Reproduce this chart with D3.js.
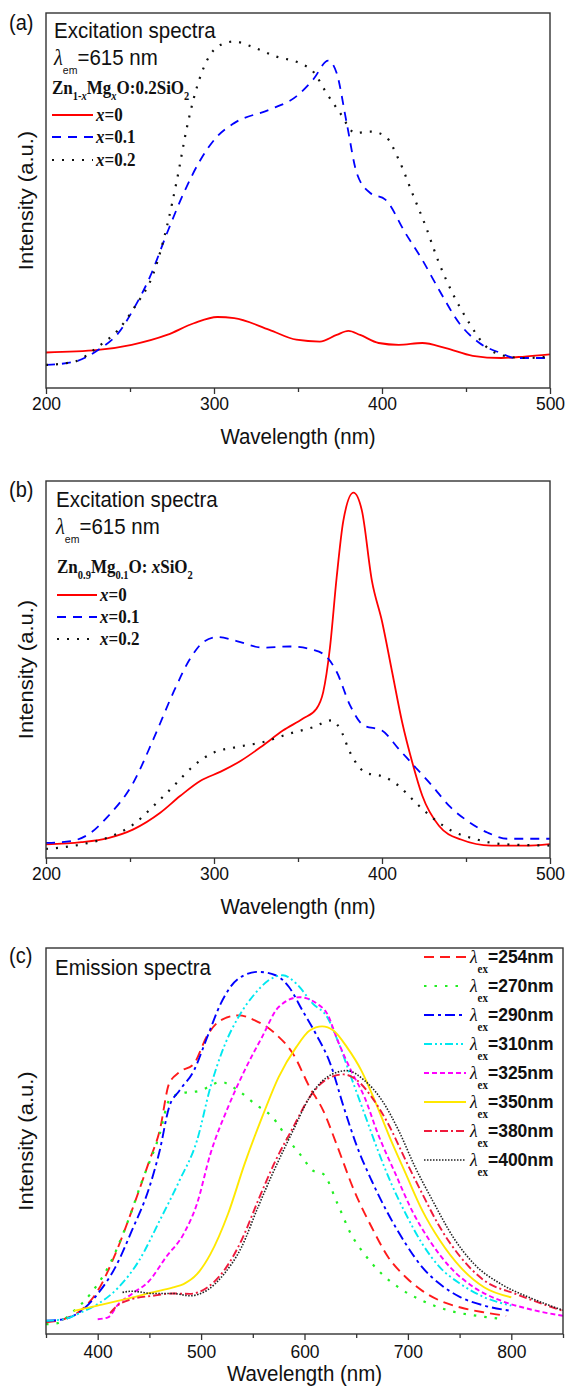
<!DOCTYPE html>
<html>
<head>
<meta charset="utf-8">
<script src="https://cdn.jsdelivr.net/npm/d3@7"></script>
<style>
  body { margin: 0; background: #fff; }
  svg { display: block; }
</style>
</head>
<body>
<div id="chart"></div>
<script>

// Data. Each point is [wavelength nm, intensity a.u.].

// (a) excitation, Zn1-xMgxO:0.2SiO2
var excA_x0 = [[200,7.2],[231,7.9],[251,9.3],[272,12],[288,15.2],[302,16.9],[312,16.6],[333,13.4],[349,10.7],[363,10.2],[373,12],[380,13.1],[387,12],[398,9.8],[410,9.3],[424,9.8],[438,8.4],[454,6.3],[471,5.7],[485,6.1],[500,6.7]];
var excA_x1 = [[200,3.8],[217,4.7],[231,7.9],[243,12.5],[253,19.8],[262,28],[272,39.8],[282,50.8],[292,59.9],[302,66.3],[312,69.9],[333,73.6],[349,77.2],[359,81.8],[368,87],[373,83.6],[379,69.9],[385,56.2],[393,50.8],[402,49],[414,39.8],[424,32.5],[434,24.3],[446,15.2],[458,9.8],[471,7],[479,5.7],[500,5.7]];
var excA_x2 = [[200,3.8],[217,4.7],[231,8.8],[243,13.4],[253,19.8],[264,28.9],[272,41.7],[278,54.5],[284,69],[290,80],[296,87.2],[304,91.3],[312,92.2],[322,90.9],[337,88.1],[351,86.3],[359,84],[367,78.1],[375,72.7],[384,67.2],[393,67.6],[402,66.3],[410,59.9],[418,50.8],[426,41.7],[434,31.6],[442,23.4],[452,15.2],[462,8.8],[475,6.1],[485,5.7],[500,6.1]];

// (b) excitation, Zn0.9Mg0.1O: xSiO2
var excB_x0 = [[200,3.6],[221,4.2],[237,5.3],[252,7.6],[268,12],[280,16.5],[292,20.5],[304,22.9],[316,25.8],[329,29.8],[341,33.8],[353,37],[361,39.6],[365,44],[369,55.7],[373,74.4],[377,89.5],[383,96.9],[388,92.2],[394,73.5],[400,62.8],[406,49.4],[412,36],[418,25.4],[424,16.5],[434,8.5],[447,4.9],[465,3.3],[485,3.3],[500,3.7]];
var excB_x1 = [[200,4],[215,4.5],[225,6.2],[237,11.1],[252,20],[264,31.6],[276,44.1],[286,53],[294,57.4],[302,58.6],[313,57.6],[329,55.8],[345,56.1],[359,55.2],[367,53.4],[373,49.4],[381,40.5],[389,35.2],[400,33.8],[410,28.9],[420,24],[430,19.1],[440,13.8],[451,9.8],[463,6.7],[475,5.1],[500,5.1]];
var excB_x2 = [[200,2.4],[221,3.6],[239,5.8],[252,8.9],[264,13.8],[276,19.1],[288,24.5],[300,28],[313,29.4],[329,30.7],[345,33],[359,34.7],[370,36.5],[375,34.3],[381,28],[390,22.7],[402,21.4],[410,19.1],[420,14.7],[430,10.7],[442,7.1],[455,5.1],[471,3.7],[500,3.3]];

// (c) emission, one curve per excitation wavelength
var em254 = [[350,1.1],[367,1.9],[387,5],[400,9.4],[417,19.1],[433,30.6],[450,43.8],[460,51.8],[469,64.1],[479,67.2],[493,69.4],[506,76.9],[519,80.9],[536,82.2],[552,80.9],[572,77.3],[589,72],[605,63.2],[618,57.1],[632,47.4],[648,35.9],[665,26.2],[681,18.3],[698,13],[714,9.4],[731,6.8],[751,5],[774,3.7],[795,2.8]];
var em270 = [[350,0.6],[360,0.8],[377,4.1],[393,8.6],[410,15.6],[427,26.2],[443,38.5],[460,50.9],[469,59.7],[479,61.5],[499,62.3],[519,64.6],[536,62.3],[552,58.8],[569,55.3],[585,49.1],[598,44.7],[608,41.2],[618,40.3],[632,32.4],[645,24.4],[658,19.1],[675,13.8],[691,10.3],[714,6.8],[741,4.1],[767,2.8],[794,1.9]];
var em290 = [[350,1.5],[367,1.9],[384,4.1],[400,8.6],[417,15.6],[433,25.3],[450,36.8],[460,46.5],[469,57.9],[479,62.3],[493,67.6],[506,76.5],[519,85.3],[536,91.9],[555,93.7],[572,92.8],[585,89.7],[598,83.5],[611,77.3],[625,69.4],[638,57.9],[651,47.4],[665,38.5],[681,29.7],[698,21.8],[714,15.6],[731,11.2],[751,7.7],[774,5.5],[800,4.1]];
var em310 = [[350,1.5],[367,1.9],[384,3.7],[400,5.9],[420,10.3],[440,17.4],[460,28],[479,38.5],[496,49.1],[509,63.2],[522,73.8],[536,81.7],[552,87.9],[565,91.4],[579,92.8],[592,90.6],[608,85.3],[622,81.7],[632,75.6],[645,65.9],[658,56.2],[671,46.5],[684,37.7],[698,29.7],[714,21.8],[731,15.6],[751,11.2],[774,7.7],[800,5.5]];
var em325 = [[400,1.9],[410,2.4],[420,5.9],[433,8.6],[450,12.1],[466,18.3],[483,24.4],[496,32.4],[509,45.6],[526,57.9],[542,67.6],[559,76.5],[575,84.4],[595,87],[612,85.3],[622,82.6],[632,75.6],[645,67.6],[658,60.6],[671,50.9],[688,40.3],[704,30.6],[721,22.7],[741,15.6],[764,10.3],[790,6.8],[817,4.6],[850,2.8]];
var em350 = [[377,4.1],[400,5.5],[427,7.2],[453,9],[473,10.3],[483,11.2],[496,13.8],[509,19.1],[526,29.7],[542,42.9],[559,55.3],[575,65.9],[592,73.8],[605,78.2],[617,79.3],[628,78.2],[641,73.8],[655,67.6],[668,59.7],[681,50.9],[698,40.3],[714,30.6],[731,22.7],[751,15.6],[774,10.3],[800,7.7]];
var em380 = [[412,3.5],[417,5],[433,7.2],[453,8.1],[473,8.7],[489,8.6],[506,10.3],[522,14.7],[539,22.7],[555,33.2],[572,43.8],[589,52.6],[605,60.6],[622,65.4],[638,66.6],[651,65],[665,60.6],[681,53.5],[698,43.8],[714,35],[731,26.2],[751,18.3],[774,12.1],[804,8.6],[850,4.1]];
var em400 = [[424,9],[433,9.3],[453,8.7],[473,8.7],[489,8.1],[506,9.6],[522,13.8],[539,20.9],[555,31.5],[572,42.1],[589,51.8],[605,60.6],[622,65.9],[641,67.6],[658,65],[675,59.7],[691,51.8],[707,42.1],[724,33.2],[744,23.5],[764,16.5],[790,11.2],[817,7.7],[850,4.3]];

// Legend labels / ticks
var compLabels = ['0', '0.1', '0.2'];
var exLabels = ['254', '270', '290', '310', '325', '350', '380', '400'];
var ticksAB = [200, 300, 400, 500], minorAB = [250, 350, 450];
var ticksC = [400, 500, 600, 700, 800], minorC = [350, 450, 550, 650, 750, 850];

var W = 565, H = 1388;
var SANS = '"Liberation Sans", Arial, Helvetica, sans-serif';
var SERIF = '"Liberation Serif", "Times New Roman", Times, serif';
var STRETCH = 1.1; // the source figure is a bit taller than wide

var svg = d3.select('#chart').append('svg')
  .attr('width', W)
  .attr('height', H)
  .style('font-family', SANS);

// text helpers
function txt(g, x, y, size, str) {
  var t = g.append('text')
    .attr('transform', 'translate(' + x + ',' + y + ') scale(1,' + STRETCH + ')')
    .attr('fill', '#111')
    .style('font-size', size + 'px');
  if (str) t.text(str);
  return t;
}

function rich(t, list, subSize, shift) {
  var cur = 0;
  list.forEach(function(p) {
    var s = p.sub ? shift : 0;
    var ts = t.append('tspan').attr('dy', s - cur).text(p.t);
    cur = s;
    if (p.sub) ts.style('font-size', subSize + 'px');
    if (p.it) ts.style('font-style', 'italic');
    if (p.f) ts.style('font-family', p.f);
    if (p.w) ts.style('font-weight', p.w);
  });
  return t;
}

function panel(box, xDom, yDom, majors, minors, tickDy, titleDy) {
  var g = svg.append('g');
  var x = d3.scaleLinear().domain(xDom).range([box.l, box.r]);
  var y = d3.scaleLinear().domain(yDom).range([box.b, box.t]);

  // minor ticks
  var mn = g.append('g').attr('transform', 'translate(0,' + box.b + ')')
    .call(d3.axisBottom(x).tickValues(minors).tickSize(4).tickFormat(''));
  mn.select('.domain').remove();
  mn.selectAll('line').attr('stroke', '#333').attr('stroke-width', 1.3);

  // major ticks + labels
  var mj = g.append('g').attr('transform', 'translate(0,' + box.b + ')')
    .attr('font-family', null).attr('font-size', null)
    .call(d3.axisBottom(x).tickValues(majors).tickSize(6).tickFormat(d3.format('d')));
  mj.select('.domain').remove();
  mj.selectAll('line').attr('stroke', '#333').attr('stroke-width', 1.3);
  mj.selectAll('text')
    .attr('y', 0).attr('dy', 0)
    .attr('transform', 'translate(0,' + tickDy + ') scale(1,' + STRETCH + ')')
    .attr('fill', '#111')
    .style('font-family', SANS)
    .style('font-size', '17.5px');

  txt(g, (box.l + box.r) / 2, box.b + titleDy, 20.5, 'Wavelength (nm)')
    .attr('text-anchor', 'middle');

  g.append('text')
    .attr('transform', 'translate(33,' + (box.t + box.b) / 2 + ') scale(1,' + STRETCH + ') rotate(-90)')
    .attr('text-anchor', 'middle')
    .attr('fill', '#111')
    .style('font-size', '20px')
    .text('Intensity (a.u.)');

  var id = 'clip' + Math.round(box.t);
  g.append('clipPath').attr('id', id).append('rect')
    .attr('x', box.l).attr('y', box.t).attr('width', box.r - box.l).attr('height', box.b - box.t);
  var plot = g.append('g').attr('clip-path', 'url(#' + id + ')');

  g.append('rect')
    .attr('x', box.l).attr('y', box.t)
    .attr('width', box.r - box.l).attr('height', box.b - box.t)
    .attr('fill', 'none').attr('stroke', '#333').attr('stroke-width', 1.4);

  return { g: g, plot: plot, x: x, y: y };
}

function curve(p, data, st) {
  var line = d3.line()
    .x(function(d) { return p.x(d[0]); })
    .y(function(d) { return p.y(d[1]); })
    .curve(d3.curveMonotoneX);
  p.plot.append('path')
    .datum(data)
    .attr('d', line)
    .attr('fill', 'none')
    .attr('stroke', st.c)
    .attr('stroke-width', st.w)
    .attr('stroke-dasharray', st.d);
}

function legendLine(g, x1, x2, y, st) {
  g.append('line')
    .attr('x1', x1).attr('x2', x2).attr('y1', y).attr('y2', y)
    .attr('stroke', st.c).attr('stroke-width', st.w)
    .attr('stroke-dasharray', st.d);
}

// line styles
var stRed = { c: '#ff0000', w: 1.8, d: null };
var stBlue = { c: '#0000ff', w: 1.8, d: '9,7' };
var stDot = { c: '#111', w: 2.2, d: '2,8' };
var compStyles = [stRed, stBlue, stDot];

var exStyles = [
  { c: '#ff1a1a', w: 1.9, d: '10,6' },
  { c: '#22ee22', w: 2.2, d: '2.5,8' },
  { c: '#0000ff', w: 1.9, d: '10,4,3,4' },
  { c: '#00e8f0', w: 1.9, d: '8,3,2,3,2,3' },
  { c: '#ff00ff', w: 1.9, d: '5,3' },
  { c: '#ffe800', w: 1.9, d: null },
  { c: '#f01a3c', w: 1.9, d: '8,3,2,3' },
  { c: '#222', w: 1.6, d: '1.5,1.5' }
];

// ---- (a)
var pa = panel({ l: 46, r: 550, t: 13, b: 388 }, [200, 500], [-2.5, 100], ticksAB, minorAB, 22, 56);
[excA_x0, excA_x1, excA_x2].forEach(function(d, i) { curve(pa, d, compStyles[i]); });

txt(svg, 9, 30, 20, '(a)');
txt(pa.g, 54, 38, 20.5, 'Excitation spectra');
rich(txt(pa.g, 54, 65, 20.5), [
  { t: 'λ', f: SERIF, it: true },
  { t: 'em', sub: true },
  { t: '=615 nm' }
], 10.5, 8);
rich(txt(pa.g, 52, 94, 17).style('font-family', SERIF).style('font-weight', 'bold'), [
  { t: 'Zn' }, { t: '1-', sub: true }, { t: 'x', sub: true, it: true },
  { t: 'Mg' }, { t: 'x', sub: true, it: true },
  { t: 'O:0.2SiO' }, { t: '2', sub: true }
], 10.5, 5.5);
[115, 137, 160].forEach(function(yy, i) {
  legendLine(pa.g, 52, 93, yy, compStyles[i]);
  rich(txt(pa.g, 96, yy + 6, 17).style('font-family', SERIF).style('font-weight', 'bold'), [
    { t: 'x', it: true }, { t: '=' + compLabels[i] }
  ], 10, 0);
});

// ---- (b)
var pb = panel({ l: 46, r: 550, t: 481, b: 858 }, [200, 500], [0, 100], ticksAB, minorAB, 22, 56);
[excB_x0, excB_x1, excB_x2].forEach(function(d, i) { curve(pb, d, compStyles[i]); });

txt(svg, 9, 497, 20, '(b)');
txt(pb.g, 56, 507, 20.5, 'Excitation spectra');
rich(txt(pb.g, 56, 534, 20.5), [
  { t: 'λ', f: SERIF, it: true },
  { t: 'em', sub: true },
  { t: '=615 nm' }
], 10.5, 8);
rich(txt(pb.g, 57, 573, 17).style('font-family', SERIF).style('font-weight', 'bold'), [
  { t: 'Zn' }, { t: '0.9', sub: true },
  { t: 'Mg' }, { t: '0.1', sub: true },
  { t: 'O: ' }, { t: 'x', it: true }, { t: 'SiO' }, { t: '2', sub: true }
], 10.5, 5.5);
[595, 617, 639].forEach(function(yy, i) {
  legendLine(pb.g, 57, 97, yy, compStyles[i]);
  rich(txt(pb.g, 100, yy + 6, 17).style('font-family', SERIF).style('font-weight', 'bold'), [
    { t: 'x', it: true }, { t: '=' + compLabels[i] }
  ], 10, 0);
});

// ---- (c)
var pc = panel({ l: 46, r: 563, t: 948, b: 1334 }, [350, 850], [-2, 100], ticksC, minorC, 24, 47);
[em254, em270, em290, em310, em325, em350, em380, em400].forEach(function(d, i) {
  curve(pc, d, exStyles[i]);
});

txt(svg, 9, 963, 20, '(c)');
txt(pc.g, 55, 975, 20.5, 'Emission spectra');
exLabels.forEach(function(lab, i) {
  var yy = 957 + i * 29;
  legendLine(pc.g, 424, 466, yy, exStyles[i]);
  rich(txt(pc.g, 470, yy + 6, 17.5).style('font-weight', 'bold'), [
    { t: 'λ', f: SERIF, it: true, w: 'normal' },
    { t: 'ex', sub: true, f: SERIF },
    { t: '=' + lab + 'nm' }
  ], 11, 9);
});

</script>
</body>
</html>
